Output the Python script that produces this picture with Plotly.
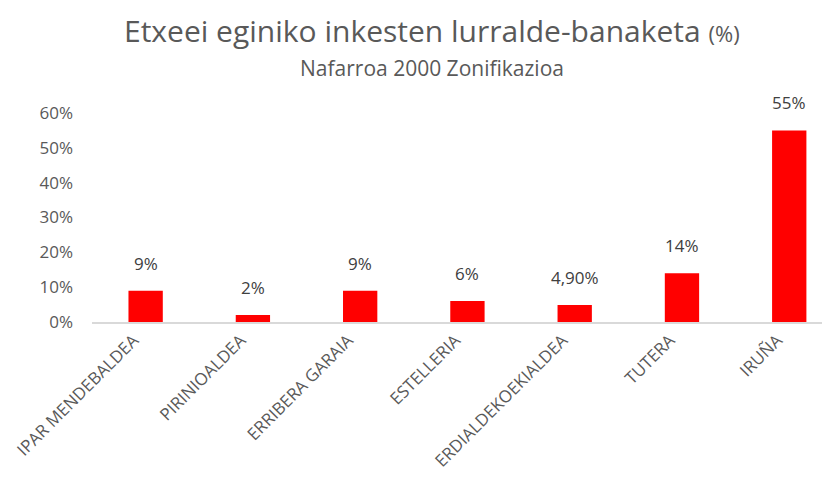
import plotly.graph_objects as go

categories = ["IPAR MENDEBALDEA", "PIRINIOALDEA", "ERRIBERA GARAIA", "ESTELLERIA",
              "ERDIALDEKOEKIALDEA", "TUTERA", "IRUÑA"]
values = [0.09, 0.02, 0.09, 0.06, 0.049, 0.14, 0.55]
value_labels = ["9%", "2%", "9%", "6%", "4,90%", "14%", "55%"]
y_ticks = [0, 0.1, 0.2, 0.3, 0.4, 0.5, 0.6]
y_tick_labels = ["0%", "10%", "20%", "30%", "40%", "50%", "60%"]

grey = "#595959"
font_family = "Open Sans"

# page body has an 8px default margin, so the figure is offset by 8px
W, H = 822, 481
L, T, B, R = 84, 105, 167, 0

fig = go.Figure(go.Bar(
    x=categories, y=values,
    marker=dict(color="#ff0000", line=dict(width=0)),
    width=0.32,
))

annotations = []
for c, v, lab in zip(categories, values, value_labels):
    annotations.append(dict(x=c, y=v, xref="x", yref="y", text=lab, showarrow=False,
                            yanchor="bottom", yshift=14,
                            font=dict(size=17, color="#404040", family=font_family)))

pw, ph = W - L - R, H - T - B
def px_to_paper(px, py):
    return (px - L) / pw, (H - B - py) / ph

tx, ty = px_to_paper(432 - 8, 30 - 8)
annotations.append(dict(
    text="Etxeei eginiko inkesten lurralde-banaketa <span style='font-size:22px'>(%)</span>",
    x=tx, y=ty, xref="paper", yref="paper", xanchor="center", yanchor="middle",
    showarrow=False, font=dict(size=30, color=grey, family=font_family)))
sx, sy = px_to_paper(432 - 8, 68 - 8)
annotations.append(dict(
    text="Nafarroa 2000 Zonifikazioa",
    x=sx, y=sy, xref="paper", yref="paper", xanchor="center", yanchor="middle",
    showarrow=False, font=dict(size=21, color=grey, family=font_family)))

fig.update_layout(
    width=W, height=H,
    margin=dict(l=L, r=R, t=T, b=B, autoexpand=False),
    paper_bgcolor="white", plot_bgcolor="white",
    showlegend=False,
    font=dict(family=font_family, color=grey),
    annotations=annotations,
)

fig.update_xaxes(
    range=[-0.5, 6.38], tickangle=-45, showline=True, linecolor="#d9d9d9", linewidth=1.5,
    ticks="", showgrid=False, tickfont=dict(size=17, color=grey, family=font_family),
    ticklabelshift=-12, automargin=False,
)
fig.update_yaxes(
    range=[0, 0.6], tickvals=y_ticks, ticktext=y_tick_labels, showgrid=False,
    zeroline=False, ticks="", tickfont=dict(size=17, color=grey, family=font_family),
    ticklabelstandoff=18, automargin=False,
)

fig.write_html("out.html")
